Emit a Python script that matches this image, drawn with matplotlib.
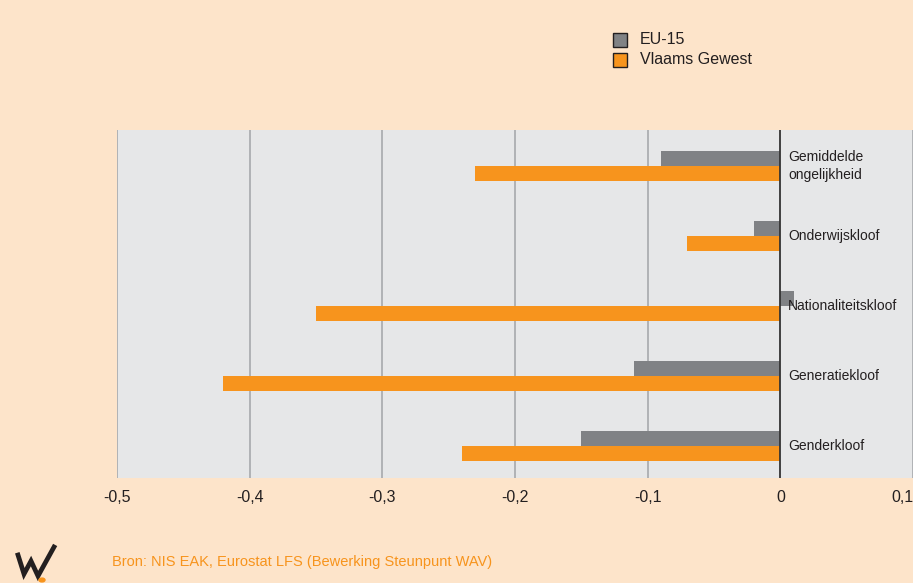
import matplotlib
matplotlib.use("Agg")
import matplotlib.pyplot as plt
from matplotlib.patches import Rectangle, Circle
from matplotlib.lines import Line2D
import numpy as np

categories = ["Gemiddelde\nongelijkheid", "Onderwijskloof", "Nationaliteitskloof",
              "Generatiekloof", "Genderkloof"]
eu15 = [-0.09, -0.02, 0.01, -0.11, -0.15]
vlaams = [-0.23, -0.07, -0.35, -0.42, -0.24]
series_names = ["EU-15", "Vlaams Gewest"]
xticks = [-0.5, -0.4, -0.3, -0.2, -0.1, 0.0, 0.1]
xtick_labels = ["-0,5", "-0,4", "-0,3", "-0,2", "-0,1", "0", "0,1"]
source = "Bron: NIS EAK, Eurostat LFS (Bewerking Steunpunt WAV)"

BG = "#FDE4CA"
PLOT_BG = "#E6E7E8"
GRAY = "#808285"
ORANGE = "#F7941D"
FONT = "Liberation Sans"

W, H = 913, 583
fig = plt.figure(figsize=(W / 100, H / 100), dpi=100, facecolor=BG)
ax = fig.add_axes([117 / W, (H - 478) / H, (913 - 117) / W, 348 / H])
ax.set_facecolor(PLOT_BG)

y = np.arange(len(categories))
h = 0.21
ax.barh(y - h / 2 - 0.003, eu15, height=h, color=GRAY, zorder=3)
ax.barh(y + h / 2 + 0.003, vlaams, height=h, color=ORANGE, zorder=3)

ax.set_xlim(-0.5, 0.1)
ax.set_ylim(4.46, -0.517)
for xt in xticks:
    if xt == 0:
        ax.axvline(xt, color="#333333", lw=1.3, zorder=4)
    else:
        ax.axvline(xt, color="#A7A9AC", lw=1.2, zorder=1)

ax.set_xticks(xticks)
ax.set_xticklabels(xtick_labels, family=FONT, fontsize=11.5, color="#231F20")
ax.get_xticklabels()[-1].set_horizontalalignment("right")
ax.tick_params(axis="x", length=0, pad=9)
ax.set_yticks([])
for s in ax.spines.values():
    s.set_visible(False)

for yi, lab in zip(y, categories):
    ax.text(0.006, yi, lab, family=FONT, fontsize=10, color="#231F20",
            va="center", ha="left", zorder=5, linespacing=1.35)

# legend
for i, (name, col) in enumerate(zip(series_names, [GRAY, ORANGE])):
    yc = 40 + 20 * i
    fig.patches.append(Rectangle((613 / W, (H - yc - 7) / H), 14 / W, 14 / H,
                                 transform=fig.transFigure, facecolor=col,
                                 edgecolor="#231F20", lw=1.0))
    fig.text(640 / W, (H - yc) / H, name, family=FONT, fontsize=11.5,
             color="#231F20", va="center", ha="left")

# source
fig.text(112 / W, (H - 562) / H, source, family=FONT, fontsize=10.5,
         color=ORANGE, va="center", ha="left")

# logo
xs = [18, 24, 31, 38, 54]
ys = [555, 574, 561, 576, 547]
fig.lines.append(Line2D([x / W for x in xs], [(H - v) / H for v in ys],
                        transform=fig.transFigure, color="#231F20", lw=3.4,
                        solid_joinstyle="miter"))
fig.patches.append(Circle((42 / W, (H - 580) / H), 3.0 / W,
                          transform=fig.transFigure, color=ORANGE, zorder=5))

fig.savefig("out.png", dpi=100, facecolor=BG)
